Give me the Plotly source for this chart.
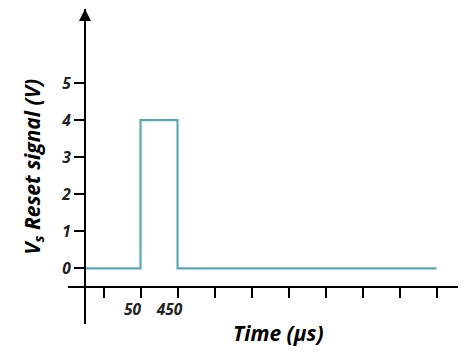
import plotly.graph_objects as go

# Schematic reset pulse: time in tick units, voltage in V
time_pts = [0, 1.5, 1.5, 2.5, 2.5, 9.5]
volt_pts = [0, 0, 4, 4, 0, 0]

x_tick_pos = [0.5, 1.5, 2.5, 3.5, 4.5, 5.5, 6.5, 7.5, 8.5, 9.5]
x_tick_text = ["", "50", "450", "", "", "", "", "", "", ""]
y_tick_pos = [0, 1, 2, 3, 4, 5]
y_tick_text = ["0", "1", "2", "3", "4", "5"]

x_range = [-0.46, 10.08]
y_range = [-1.5, 7.0]

bold_it = dict(family="Open Sans, Liberation Sans, sans-serif", size=15.5,
               color="#222222", weight="bold", style="italic")

fig = go.Figure()
fig.add_trace(go.Scatter(
    x=time_pts, y=volt_pts, mode="lines",
    line=dict(color="#5aa8b3", width=2.2),
    hoverinfo="skip", showlegend=False,
))

# place axes at x=0 and y=-0.5 inside the plot area
y_axis_at = (0 - x_range[0]) / (x_range[1] - x_range[0])
x_axis_at = (-0.5 - y_range[0]) / (y_range[1] - y_range[0])

fig.update_xaxes(
    range=x_range, anchor="free", position=x_axis_at, automargin=False,
    showline=True, linecolor="black", linewidth=2,
    showgrid=False, zeroline=False,
    ticks="outside", ticklen=10, tickwidth=2, tickcolor="black",
    tickvals=x_tick_pos, ticktext=x_tick_text,
    tickfont=bold_it, ticklabelshift=-8, ticklabelstandoff=-2,
)
fig.update_yaxes(
    range=y_range, anchor="free", position=y_axis_at, automargin=False,
    showline=True, linecolor="black", linewidth=2,
    showgrid=False, zeroline=False,
    ticks="outside", ticklen=10, tickwidth=2, tickcolor="black",
    tickvals=y_tick_pos, ticktext=y_tick_text,
    tickfont=bold_it,
)

# axis arrowheads
fig.add_annotation(x=0, y=7.0, ax=0, ay=18, text="", showarrow=True,
                   arrowhead=2, arrowsize=1.2, arrowwidth=2, arrowcolor="black")
fig.add_annotation(x=10.14, y=-0.5, ax=-18, ay=0, text="", showarrow=True,
                   arrowhead=2, arrowsize=1.2, arrowwidth=2, arrowcolor="black")

# axis titles
title_font = dict(bold_it, size=21, color="black")
fig.add_annotation(text="V<sub>s</sub> Reset signal (V)", textangle=-90,
                   xref="paper", yref="paper", x=-0.135, y=0.5,
                   showarrow=False, font=title_font)
fig.add_annotation(text="Time (µs)", xref="paper", yref="paper",
                   x=0.54, y=-0.03, yanchor="middle",
                   showarrow=False, font=title_font)

fig.update_layout(
    template="none",
    width=471, height=354,
    margin=dict(l=68, r=13, t=9, b=30),
    plot_bgcolor="white", paper_bgcolor="white",
)
# drop the browser's default page margin so the figure sits at the corner
fig.write_html("out.html", config={"displayModeBar": False},
               post_script="document.body.style.margin='0';")
